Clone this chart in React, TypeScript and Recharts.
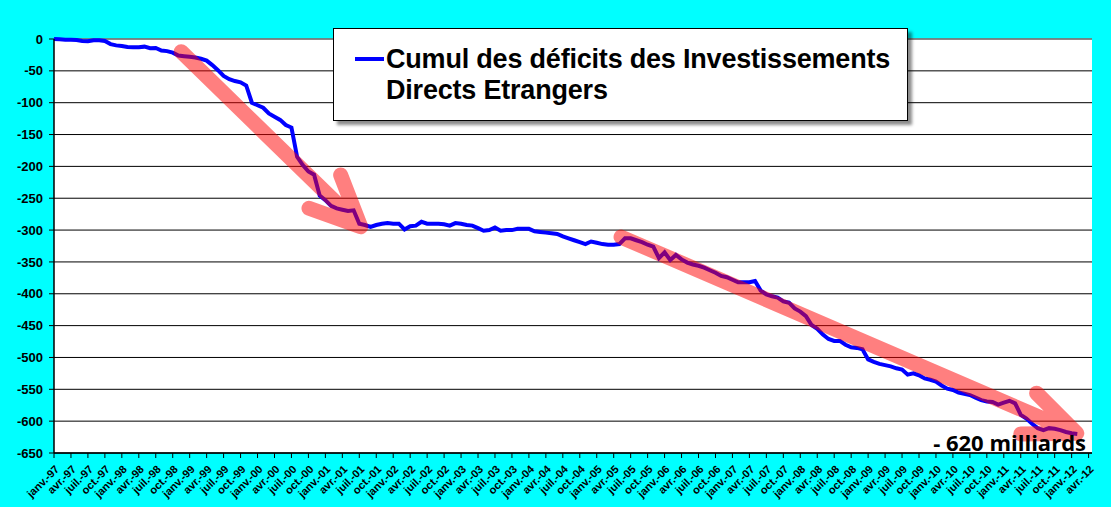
import React from 'react'
import { LineChart, Line, XAxis, YAxis, CartesianGrid, ReferenceLine } from 'recharts'

// monthly cumulative FDI deficit, janv-97 .. fév-12 (Md€)
const months = Array.from({ length: 182 }, (_, i) => i)
const cumul = [
  0, -0.5, -1, -1, -1.5, -3, -3.5, -2, -2, -3, -8, -10,
  -11, -12.5, -13, -13, -12, -14.5, -14, -18, -19, -21.5, -26, -27,
  -28, -29, -31, -34, -41, -49, -58, -63, -66, -68, -73, -100,
  -104, -108, -117, -122, -127, -135, -139, -185, -198, -208, -213, -246,
  -253, -262, -266, -268, -270, -269, -290, -292, -295, -292, -290, -289,
  -290, -290, -299, -294, -293, -287, -290, -290, -290, -291, -293, -289,
  -290, -292, -293, -297, -301, -300, -296, -301, -300, -300, -298, -298,
  -298, -302, -303, -304, -305, -306, -310, -313, -316, -319, -322, -318,
  -320, -322, -323, -323, -322, -313, -313, -316, -319, -323, -326, -344,
  -335, -347, -339, -346, -351, -354, -356, -359, -363, -367, -372, -374,
  -378, -382, -382, -382, -380, -395, -401, -404, -406, -412, -414, -423,
  -428, -435, -449, -455, -464, -471, -474, -474, -480, -484, -485, -487,
  -503, -507, -510, -512, -514, -517, -519, -527, -525, -528, -533, -535,
  -538, -544, -549, -551, -555, -557, -559, -563, -567, -569, -570, -574,
  -571, -568, -572, -590, -596, -604, -611, -614, -611, -612, -614, -617,
  -619, -620,
]

const monthNames = ['janv.', 'avr.', 'juil.', 'oct.']
const xTicks = Array.from({ length: 62 }, (_, i) => i * 3)
const yTicks = [0, -50, -100, -150, -200, -250, -300, -350, -400, -450, -500, -550, -600, -650]

// annotation arrows: shaft start -> tip -> head -> tip -> head
const arrow1 = [
  { m: 22.5, v: -20 },
  { m: 54.25, v: -294.7 },
  { m: 50.7, v: -213.5 },
  { m: 54.25, v: -294.7 },
  { m: 45.1, v: -265.8 },
]
const arrow2 = [
  { m: 100.3, v: -310.9 },
  { m: 180.9, v: -619 },
  { m: 173.8, v: -556 },
  { m: 180.9, v: -619 },
  { m: 171, v: -620 },
]

const data = months.map((m) => ({ m, v: cumul[m] }))

const FONT = 'Arial, "Liberation Sans", sans-serif'

function monthLabel(i: number) {
  const yr = (97 + Math.floor(i / 12)) % 100
  return `${monthNames[(i % 12) / 3]}-${String(yr).padStart(2, '0')}`
}

function XTick(props: any) {
  const { x, y, payload } = props
  const tx = x + 3
  const ty = y + 7
  return (
    <text
      x={tx}
      y={ty}
      transform={`rotate(-45, ${tx}, ${ty})`}
      textAnchor="end"
      dominantBaseline="central"
      fontFamily={FONT}
      fontWeight="bold"
      fontSize={11}
      fill="#000"
    >
      {monthLabel(payload.value)}
    </text>
  )
}

export default function App() {
  return (
    <div style={{ position: 'absolute', left: 0, top: 0, width: 1111, height: 507, background: '#00ffff', fontFamily: FONT }}>
      <LineChart width={1111} height={507} data={data} margin={{ top: 39, right: 19, left: 0, bottom: 0 }}>
        <CartesianGrid vertical={false} stroke="#000" strokeWidth={1} fill="#fff" />
        <ReferenceLine y={0} stroke="#8c8c8c" strokeWidth={1.5} />
        <XAxis
          dataKey="m"
          type="number"
          domain={[0, 183.6]}
          ticks={xTicks}
          interval={0}
          height={54}
          tickSize={5}
          axisLine={{ stroke: '#000', strokeWidth: 1.5 }}
          tickLine={{ stroke: '#000' }}
          tick={<XTick />}
        />
        <YAxis
          type="number"
          domain={[-650, 0]}
          ticks={yTicks}
          interval={0}
          width={54}
          tickSize={5}
          tickMargin={6}
          axisLine={{ stroke: '#000', strokeWidth: 1.5 }}
          tickLine={{ stroke: '#000' }}
          tick={{ fill: '#000', fontSize: 13, fontWeight: 'bold', fontFamily: FONT }}
        />
        <Line
          type="linear"
          dataKey="v"
          stroke="#0000ff"
          strokeWidth={4}
          dot={false}
          activeDot={false}
          isAnimationActive={false}
        />
        {[arrow1, arrow2].map((a, i) => (
          <Line
            key={i}
            data={a}
            type="linear"
            dataKey="v"
            stroke="#ff0000"
            strokeOpacity={0.5}
            strokeWidth={15}
            strokeLinecap="round"
            strokeLinejoin="round"
            dot={false}
            activeDot={false}
            isAnimationActive={false}
          />
        ))}
      </LineChart>

      <div
        style={{
          position: 'absolute',
          left: 333,
          top: 28,
          width: 575,
          height: 93,
          boxSizing: 'border-box',
          border: '1px solid #000',
          background: '#fff',
          boxShadow: '4px 4px 3px rgba(0,0,0,0.45)',
        }}
      >
        <div style={{ position: 'absolute', left: 21, top: 28, width: 29, height: 4, background: '#0000ff' }} />
        <div
          style={{
            position: 'absolute',
            left: 52,
            top: 15,
            fontSize: 27,
            letterSpacing: '-0.2px',
            lineHeight: '31px',
            fontWeight: 'bold',
            color: '#000',
            whiteSpace: 'nowrap',
          }}
        >
          Cumul des déficits des Investissements
          <br />
          Directs Etrangers
        </div>
      </div>

      <div
        style={{
          position: 'absolute',
          right: 25,
          top: 431,
          fontFamily: '"Open Sans", Lato, sans-serif',
          fontSize: 22,
          lineHeight: '22px',
          fontWeight: 'bold',
          color: '#000',
          whiteSpace: 'nowrap',
        }}
      >
        - 620 milliards
      </div>
    </div>
  )
}
